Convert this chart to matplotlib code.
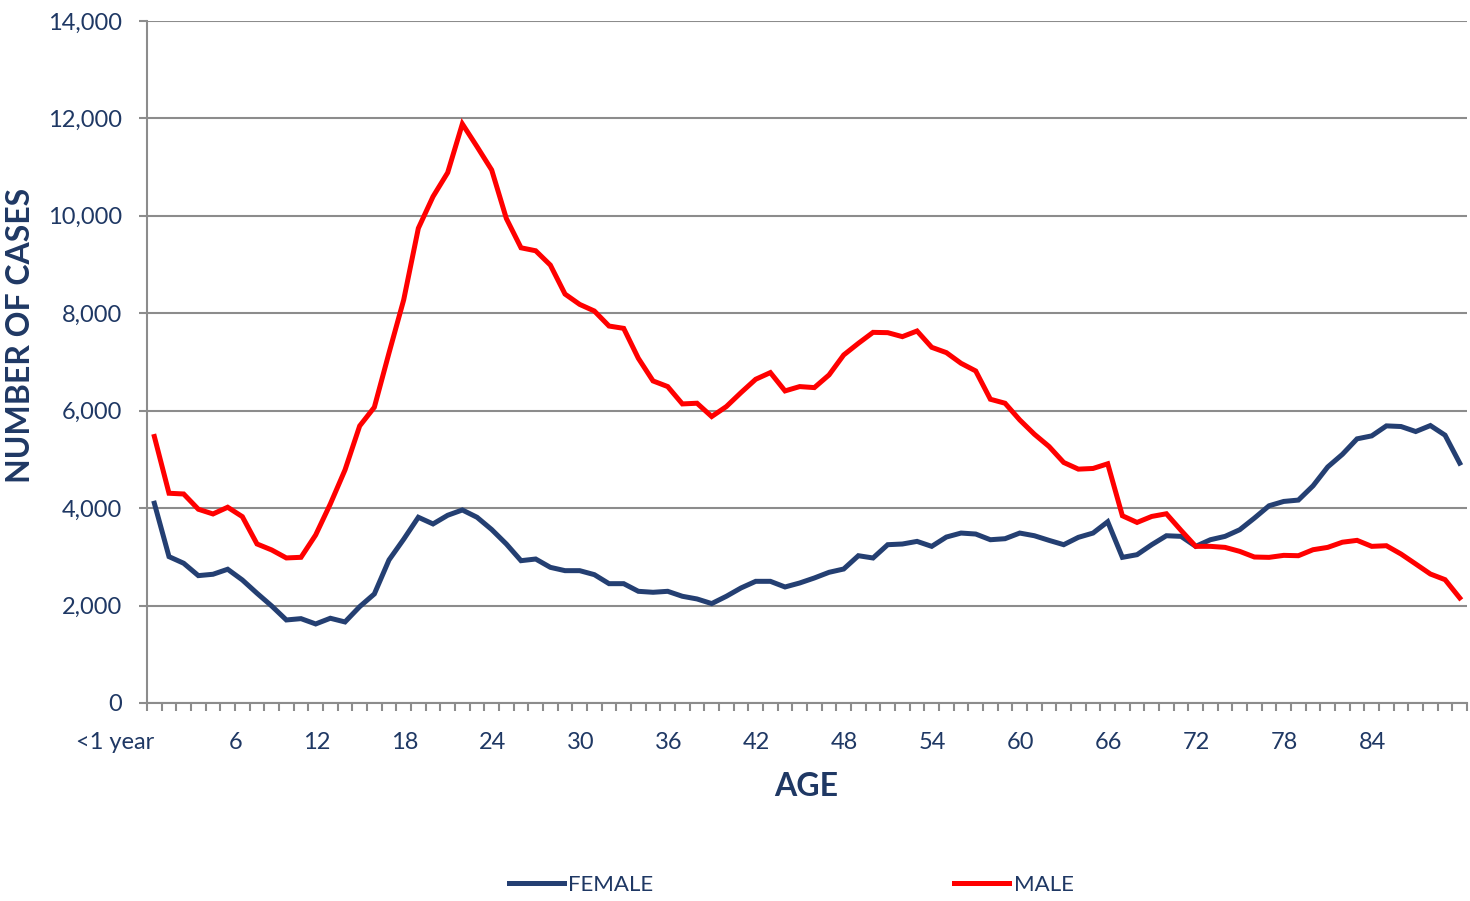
import matplotlib
matplotlib.use("Agg")
import matplotlib.pyplot as plt
import numpy as np

plt.rcParams["font.family"] = ["Lato", "DejaVu Sans"]

# age categories: "<1 year", 1, 2, ... 89
ages = ["<1 year"] + [str(a) for a in range(1, 90)]

female = [4100, 3004, 2868, 2614, 2642, 2745, 2525, 2252, 1991, 1704,
          1731, 1622, 1739, 1663, 1977, 2238, 2936, 3361, 3812, 3675,
          3853, 3962, 3812, 3560, 3263, 2921, 2955, 2784, 2716, 2716,
          2634, 2449, 2449, 2292, 2272, 2292, 2190, 2135, 2040, 2190,
          2361, 2497, 2497, 2381, 2463, 2566, 2682, 2750, 3023, 2976,
          3249, 3263, 3317, 3215, 3406, 3488, 3468, 3351, 3372, 3488,
          3433, 3338, 3249, 3400, 3488, 3720, 2989, 3044, 3249, 3433,
          3420, 3215, 3351, 3420, 3556, 3795, 4048, 4137, 4165, 4458,
          4845, 5104, 5422, 5483, 5688, 5675, 5572, 5695, 5497, 4923]

male = [5470, 4305, 4290, 3977, 3880, 4018, 3825, 3264, 3141, 2977,
        2990, 3449, 4086, 4784, 5687, 6071, 7186, 8274, 9745, 10395,
        10887, 11887, 11421, 10942, 9945, 9344, 9283, 8989, 8394, 8182,
        8046, 7738, 7690, 7075, 6611, 6495, 6139, 6153, 5880, 6085,
        6372, 6645, 6782, 6406, 6495, 6474, 6734, 7144, 7383, 7608,
        7602, 7520, 7636, 7301, 7192, 6973, 6816, 6235, 6153, 5811,
        5517, 5265, 4937, 4800, 4814, 4910, 3843, 3706, 3829, 3884,
        3543, 3215, 3215, 3194, 3112, 2996, 2989, 3030, 3023, 3146,
        3194, 3300, 3338, 3215, 3228, 3057, 2853, 2647, 2531, 2156]

label_step = 6
navy = "#1F3864"
grid_gray = "#8C8C8C"

fig = plt.figure(figsize=(14.7, 9.01), dpi=100)
ax = fig.add_axes([0.1, 0.2198, 0.898, 0.7569])

x = np.arange(len(ages))
ax.plot(x, female, color="#243F72", lw=3.6, label="FEMALE", solid_joinstyle="miter")
ax.plot(x, male, color="#FF0000", lw=3.6, label="MALE", solid_joinstyle="miter")

ax.set_xlim(-0.5, len(ages) - 0.5)
ax.set_ylim(0, 14000)
ax.set_yticks(np.arange(0, 14001, 2000))
ax.yaxis.set_major_formatter(matplotlib.ticker.FuncFormatter(lambda v, p: f"{int(v):,}"))
ax.grid(axis="y", color=grid_gray, lw=1.5)
ax.set_axisbelow(True)

# category labels every 6 ages, boundary tick marks between every category
ax.set_xticks(x[::label_step])
ax.set_xticklabels(ages[::label_step], ha="right")
ax.set_xticks(np.arange(-0.5, len(ages), 1), minor=True)
ax.tick_params(axis="x", which="major", length=0, pad=21, labelsize=17, labelcolor=navy)
ax.tick_params(axis="x", which="minor", length=6, width=1.5, color=grid_gray, direction="out")
ax.tick_params(axis="y", length=6, width=1.5, color=grid_gray, pad=12, labelsize=17, labelcolor=navy)

for side in ["top", "right"]:
    ax.spines[side].set_visible(False)
for side in ["left", "bottom"]:
    ax.spines[side].set_color(grid_gray)
    ax.spines[side].set_linewidth(1.5)

fig.text(21 / 1470, 1 - 335 / 901, "NUMBER OF CASES", rotation=90, ha="center", va="center",
         fontsize=23, fontweight="bold", color=navy)
fig.text(806 / 1470, 1 - 787 / 901, "AGE", ha="center", va="center",
         fontsize=23, fontweight="bold", color=navy)

leg = fig.legend(loc="center", bbox_to_anchor=(791 / 1470, 1 - 885 / 901), ncol=2, frameon=False,
                 fontsize=16, handlelength=2.5, handletextpad=0.2, columnspacing=13.5)
for t in leg.get_texts():
    t.set_color(navy)

fig.savefig("out.png", dpi=100)
